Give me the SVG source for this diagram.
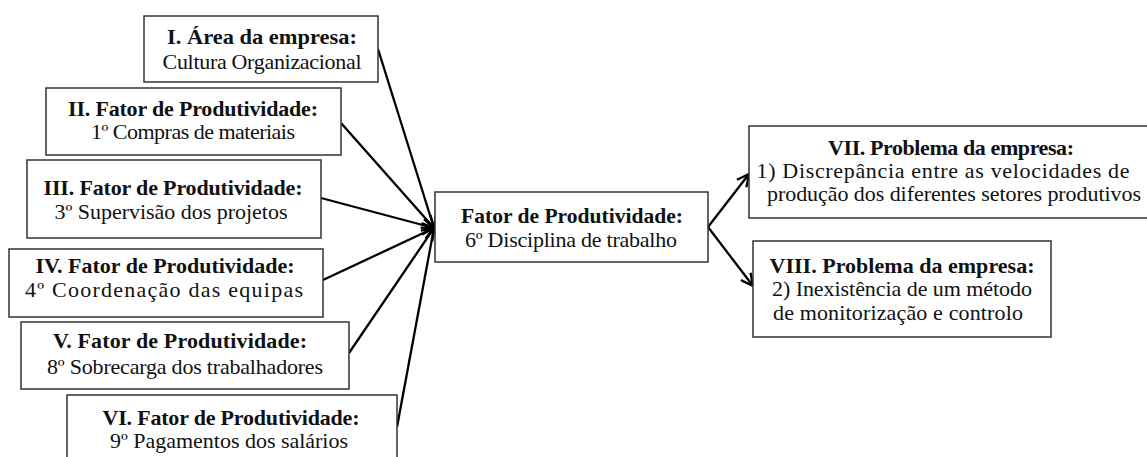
<svg xmlns="http://www.w3.org/2000/svg" width="1147" height="457" viewBox="0 0 1147 457">
  <style>
    .box { fill: #ffffff; stroke: #333333; stroke-width: 1.5; }
    .t { font-family: "Liberation Serif", "Times New Roman", serif; font-size: 22px; fill: #111111; text-anchor: middle; }
    .b { font-weight: bold; }
    .con { stroke: #000000; stroke-width: 2.3; fill: none; }
  </style>
  <defs>
    <marker id="arr" viewBox="0 0 16 16" refX="14" refY="8" markerWidth="16" markerHeight="16" markerUnits="userSpaceOnUse" orient="auto">
      <path d="M2,2 L14,8 L2,14" fill="none" stroke="#000000" stroke-width="2.3" stroke-linejoin="miter"/>
    </marker>
  </defs>
  <rect width="1147" height="457" fill="#ffffff"/>

  <g id="connectors">
    <line class="con" x1="378" y1="49" x2="434" y2="228" marker-end="url(#arr)"/>
    <line class="con" x1="341" y1="123" x2="434" y2="228" marker-end="url(#arr)"/>
    <line class="con" x1="321" y1="198" x2="434" y2="228" marker-end="url(#arr)"/>
    <line class="con" x1="323" y1="280" x2="434" y2="228" marker-end="url(#arr)"/>
    <line class="con" x1="349" y1="353" x2="434" y2="228" marker-end="url(#arr)"/>
    <line class="con" x1="397" y1="427" x2="434" y2="228" marker-end="url(#arr)"/>
    <line class="con" x1="708" y1="227" x2="749" y2="174" marker-end="url(#arr)"/>
    <line class="con" x1="708" y1="227" x2="753" y2="286" marker-end="url(#arr)"/>
  </g>

  <g id="node-I">
    <rect class="box" x="144" y="16" width="234" height="66"/>
    <text class="t b" x="262" y="44" textLength="190" lengthAdjust="spacingAndGlyphs">I. Área da empresa:</text>
    <text class="t" x="262" y="69" textLength="199" lengthAdjust="spacing">Cultura Organizacional</text>
  </g>
  <g id="node-II">
    <rect class="box" x="46" y="88" width="295" height="67"/>
    <text class="t b" x="193" y="116" textLength="250" lengthAdjust="spacing">II. Fator de Produtividade:</text>
    <text class="t" x="193" y="139" textLength="204" lengthAdjust="spacing">1º Compras de materiais</text>
  </g>
  <g id="node-III">
    <rect class="box" x="27" y="160" width="294" height="78"/>
    <text class="t b" x="173" y="195" textLength="259" lengthAdjust="spacing">III. Fator de Produtividade:</text>
    <text class="t" x="171" y="219" textLength="233" lengthAdjust="spacing">3º Supervisão  dos projetos</text>
  </g>
  <g id="node-IV">
    <rect class="box" x="9" y="249" width="314" height="68"/>
    <text class="t b" x="165" y="273" textLength="259" lengthAdjust="spacing">IV. Fator de Produtividade:</text>
    <text class="t" x="164" y="297" textLength="278" lengthAdjust="spacing">4º Coordenação das equipas</text>
  </g>
  <g id="node-V">
    <rect class="box" x="21" y="322" width="328" height="67"/>
    <text class="t b" x="180" y="348" textLength="254" lengthAdjust="spacing">V. Fator de Produtividade:</text>
    <text class="t" x="185" y="374" textLength="276" lengthAdjust="spacing">8º Sobrecarga dos trabalhadores</text>
  </g>
  <g id="node-VI">
    <rect class="box" x="67" y="395" width="330" height="80"/>
    <text class="t b" x="231" y="425" textLength="257" lengthAdjust="spacing">VI. Fator de Produtividade:</text>
    <text class="t" x="229" y="448" textLength="238" lengthAdjust="spacing">9º Pagamentos  dos salários</text>
  </g>
  <g id="node-center">
    <rect class="box" x="435" y="192" width="273" height="70"/>
    <text class="t b" x="572" y="223" textLength="222" lengthAdjust="spacingAndGlyphs">Fator de Produtividade:</text>
    <text class="t" x="571" y="247" textLength="212" lengthAdjust="spacing">6º Disciplina  de trabalho</text>
  </g>
  <g id="node-VII">
    <rect class="box" x="749" y="126" width="402" height="92"/>
    <text class="t b" x="951" y="155" textLength="246" lengthAdjust="spacing">VII. Problema  da empresa:</text>
    <text class="t" x="943" y="178" textLength="373" lengthAdjust="spacing">1) Discrepância  entre as velocidades  de</text>
    <text class="t" x="954" y="201" textLength="374" lengthAdjust="spacing">produção dos diferentes  setores produtivos</text>
  </g>
  <g id="node-VIII">
    <rect class="box" x="753" y="241" width="298" height="96"/>
    <text class="t b" x="902" y="273" textLength="265" lengthAdjust="spacing">VIII. Problema  da empresa:</text>
    <text class="t" x="902" y="296" textLength="260" lengthAdjust="spacing">2) Inexistência  de um método</text>
    <text class="t" x="898" y="320" textLength="250" lengthAdjust="spacing">de monitorização  e controlo</text>
  </g>
</svg>
